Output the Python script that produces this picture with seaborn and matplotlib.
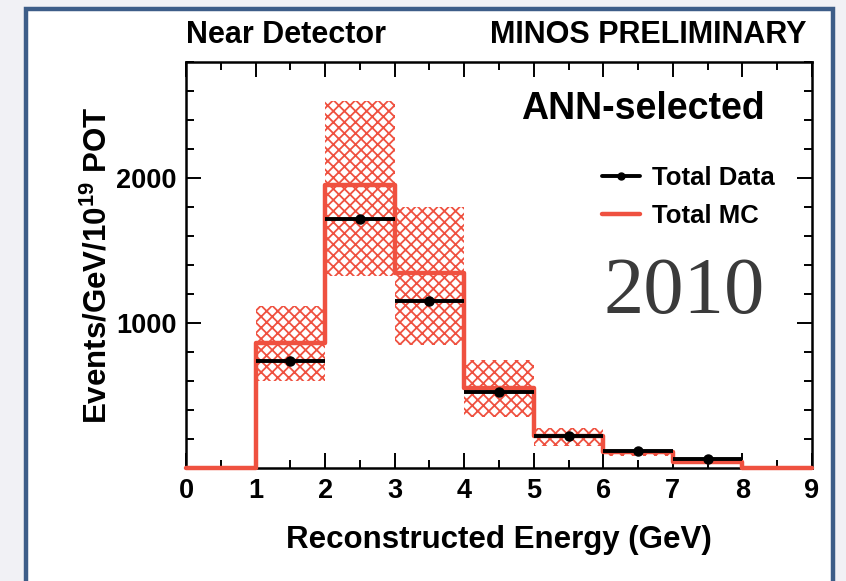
import numpy as np
import pandas as pd
import matplotlib
matplotlib.use("Agg")
import matplotlib.pyplot as plt
from matplotlib.lines import Line2D
from matplotlib.patches import Rectangle
from matplotlib.ticker import MultipleLocator, FixedLocator
import seaborn as sns

# Reconstructed-energy bins (GeV)
bin_edges = [0, 1, 2, 3, 4, 5, 6, 7, 8, 9]
bin_centers = [0.5, 1.5, 2.5, 3.5, 4.5, 5.5, 6.5, 7.5, 8.5]

# Total MC prediction per bin (events/GeV/1e19 POT)
mc_values = [0, 860, 1950, 1345, 550, 222, 108, 40, 0]
# Systematic error band on the MC (low / high)
band_low = [0, 598, 1322, 846, 352, 154, 80, 28, 0]
band_high = [0, 1115, 2529, 1798, 747, 276, 126, 52, 0]

# Total data points (bins 1-8 GeV)
data_centers = [1.5, 2.5, 3.5, 4.5, 5.5, 6.5, 7.5]
data_values = [740, 1717, 1149, 524, 218, 115, 64]

RED = "#ef5140"
FONT = ["Liberation Sans", "DejaVu Sans"]

sns.set_theme(style="ticks")
plt.rcParams["font.family"] = FONT
plt.rcParams["font.weight"] = "bold"
plt.rcParams["text.color"] = "black"
plt.rcParams["axes.labelcolor"] = "black"
plt.rcParams["mathtext.default"] = "regular"
plt.rcParams["hatch.color"] = RED
plt.rcParams["hatch.linewidth"] = 1.3

fig = plt.figure(figsize=(8.46, 5.81), dpi=100, facecolor="#f1f1f5")

# white panel with a blue frame
panel = Rectangle((26 / 846, -0.05), (833 - 26) / 846, 1.05 - 9.5 / 581,
                  transform=fig.transFigure, facecolor="white",
                  edgecolor="#3d5d88", linewidth=3.2, zorder=-10)
fig.patches.append(panel)

ax = fig.add_axes([186 / 846, 1 - 468 / 581, (812 - 186) / 846, (468 - 62) / 581])
ax.set_zorder(5)
ax.set_facecolor("white")

df_mc = pd.DataFrame({"energy": bin_centers, "mc": mc_values})

# MC error band, cross-hatched
heights = np.array(band_high) - np.array(band_low)
ax.bar(bin_centers, heights, bottom=band_low, width=1.0, align="center",
       facecolor="none", edgecolor=RED, hatch="xxx", linewidth=0, zorder=1)

# MC histogram outline
sns.histplot(data=df_mc, x="energy", weights="mc", bins=bin_edges,
             element="step", fill=False, color=RED, linewidth=3.2, ax=ax,
             zorder=3)
for ln in ax.lines:
    ln.set_clip_on(False)

# Data points with bin-width bars
ax.errorbar(data_centers, data_values, xerr=0.5, fmt="o", color="black",
            markersize=6.5, elinewidth=2.8, capsize=0, zorder=4)

ax.set_xlim(0, 9)
ax.set_ylim(0, 2800)
ax.xaxis.set_major_locator(MultipleLocator(1))
ax.xaxis.set_minor_locator(MultipleLocator(0.5))
ax.yaxis.set_major_locator(FixedLocator([1000, 2000]))
ax.yaxis.set_minor_locator(MultipleLocator(200))

for side in ["left", "right", "top", "bottom"]:
    ax.spines[side].set_visible(True)
    ax.spines[side].set_linewidth(1.8)
    ax.spines[side].set_color("black")

ax.tick_params(which="both", direction="in", top=True, right=True,
               colors="black", width=1.4)
ax.tick_params(which="major", length=11, labelsize=19.5, pad=7)
ax.tick_params(which="minor", length=6)
for lbl in ax.get_xticklabels() + ax.get_yticklabels():
    lbl.set_fontweight("bold")

ax.set_xlabel("Reconstructed Energy (GeV)", fontsize=22.5, fontweight="bold",
              labelpad=15)
ax.set_ylabel("Events/GeV/10$^{19}$ POT", fontsize=22.5, fontweight="bold",
              labelpad=2)

# Legend
handles = [
    Line2D([], [], color="black", linewidth=2.8, marker="o", markersize=5),
    Line2D([], [], color=RED, linewidth=3.2),
]
leg = ax.legend(handles, ["Total Data", "Total MC"], loc="upper left",
                bbox_to_anchor=(0.664, 0.743), frameon=False,
                prop={"size": 18.5, "weight": "bold"}, handlelength=1.5,
                handletextpad=0.45, labelspacing=0.55, borderpad=0,
                borderaxespad=0)

ax.text(0.925, 0.885, "ANN-selected", transform=ax.transAxes, ha="right",
        va="center", fontsize=27, fontweight="bold", color="black")
ax.text(0.925, 0.43, "2010", transform=ax.transAxes, ha="right",
        va="center", fontsize=58, fontweight="normal", color="#3a3a3a",
        family=["Liberation Serif", "DejaVu Serif"])

fig.text(186 / 846, 1 - 35 / 581, "Near Detector", ha="left", va="center",
         fontsize=22, fontweight="bold", color="black")
fig.text(806 / 846, 1 - 35 / 581, "MINOS PRELIMINARY", ha="right", va="center",
         fontsize=22, fontweight="bold", color="black")

fig.savefig("out.png", dpi=100, facecolor=fig.get_facecolor())
